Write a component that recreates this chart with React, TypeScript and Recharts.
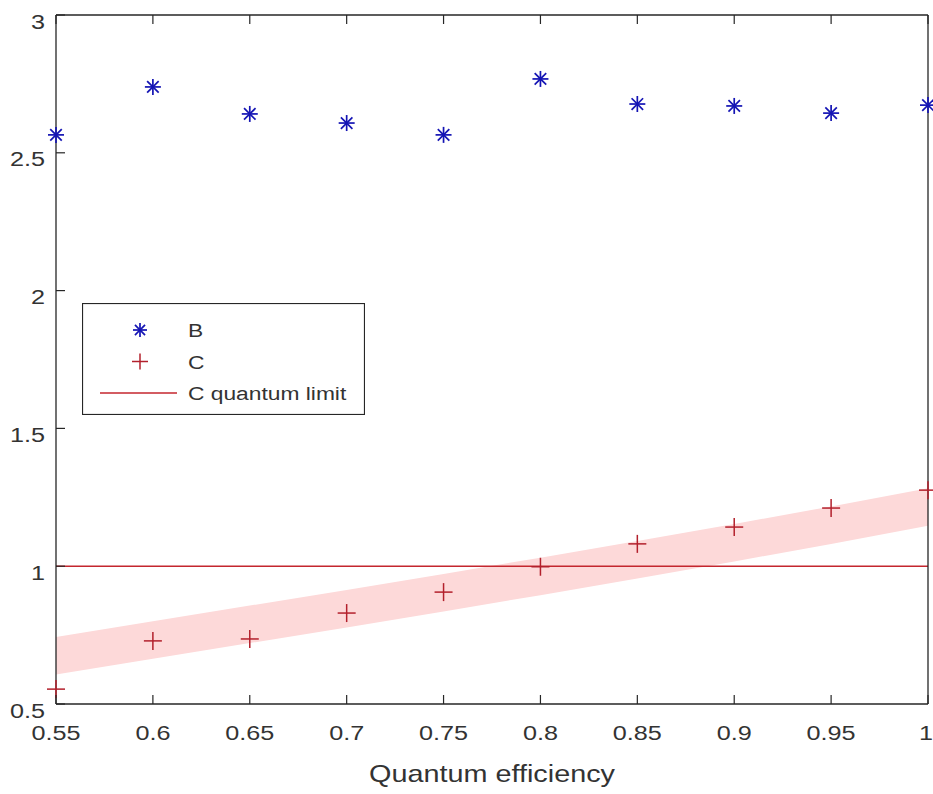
import React from "react";
import {
  Area,
  ComposedChart,
  Legend,
  ReferenceLine,
  Scatter,
  XAxis,
  YAxis,
} from "recharts";

// quantum efficiency values on the x axis
const efficiency = [0.55, 0.6, 0.65, 0.7, 0.75, 0.8, 0.85, 0.9, 0.95, 1];
// measured series
const seriesB = [2.565, 2.739, 2.641, 2.608, 2.565, 2.768, 2.677, 2.67, 2.644, 2.673];
const seriesC = [0.554, 0.729, 0.736, 0.83, 0.906, 0.998, 1.081, 1.142, 1.211, 1.276];
// shaded confidence band around C
const bandLow = [0.607, 0.664, 0.721, 0.778, 0.836, 0.895, 0.955, 1.017, 1.081, 1.147];
const bandHigh = [0.743, 0.8, 0.857, 0.914, 0.972, 1.031, 1.091, 1.153, 1.217, 1.283];
const quantumLimit = 1;

const xTicks = [0.55, 0.6, 0.65, 0.7, 0.75, 0.8, 0.85, 0.9, 0.95, 1];
const yTicks = [0.5, 1, 1.5, 2, 2.5, 3];

const data = efficiency.map((q, i) => ({
  q,
  b: seriesB[i],
  c: seriesC[i],
  band: [bandLow[i], bandHigh[i]],
}));

const FONT = '"Liberation Sans", Arial, sans-serif';
const AXIS = "#262626";
const TEXT = "#333333";
const BLUE = "#1414b4";
const RED = "#b3202c";
const LINE_RED = "#c4262e";
const BAND = "#fdd9d9";

function Star({ cx, cy, r = 8, color = BLUE }: any) {
  const d = r * 0.72;
  return (
    <g stroke={color} strokeWidth={1.7}>
      <line x1={cx - r} y1={cy} x2={cx + r} y2={cy} />
      <line x1={cx} y1={cy - r} x2={cx} y2={cy + r} />
      <line x1={cx - d} y1={cy - d} x2={cx + d} y2={cy + d} />
      <line x1={cx - d} y1={cy + d} x2={cx + d} y2={cy - d} />
    </g>
  );
}

function Plus({ cx, cy, r = 9, color = RED }: any) {
  return (
    <g stroke={color} strokeWidth={1.5}>
      <line x1={cx - r} y1={cy} x2={cx + r} y2={cy} />
      <line x1={cx} y1={cy - r} x2={cx} y2={cy + r} />
    </g>
  );
}

const BottomTick = ({ x, y, payload }: any) => (
  <g>
    <line x1={x} y1={y} x2={x} y2={y - 9} stroke={AXIS} strokeWidth={1.2} />
    <text
      transform={`translate(${Math.min(x, 926)},${y + 36}) scale(1.2,1)`}
      textAnchor="middle"
      fontSize={21}
      fontFamily={FONT}
      fill={TEXT}
    >
      {String(payload.value)}
    </text>
  </g>
);

const TopTick = ({ x, y }: any) => (
  <line x1={x} y1={y} x2={x} y2={y + 9} stroke={AXIS} strokeWidth={1.2} />
);

const LeftTick = ({ x, y, payload }: any) => (
  <g>
    <line x1={x} y1={y} x2={x + 9} y2={y} stroke={AXIS} strokeWidth={1.2} />
    <text
      transform={`translate(${x - 11},${y + 13.5}) scale(1.2,1)`}
      textAnchor="end"
      fontSize={21}
      fontFamily={FONT}
      fill={TEXT}
    >
      {String(payload.value)}
    </text>
  </g>
);

const RightTick = ({ x, y }: any) => (
  <line x1={x} y1={y} x2={x - 9} y2={y} stroke={AXIS} strokeWidth={1.2} />
);

const AxisTitle = ({ viewBox }: any) => {
  const { x, y, width } = viewBox;
  return (
    <text
      transform={`translate(${x + width / 2},${y + 78}) scale(1.2,1)`}
      textAnchor="middle"
      fontSize={24}
      fontFamily={FONT}
      fill={TEXT}
    >
      Quantum efficiency
    </text>
  );
};

const legendItems = [
  { name: "B", kind: "star" },
  { name: "C", kind: "plus" },
  { name: "C quantum limit", kind: "line" },
];

const LegendBox = () => (
  <svg width={283} height={112} style={{ display: "block" }}>
    <rect x={0.5} y={0.5} width={282} height={111} fill="#fff" stroke={AXIS} strokeWidth={1.2} />
    {legendItems.map((item, i) => {
      const cy = 27 + i * 31.5;
      return (
        <g key={item.name}>
          {item.kind === "star" && <Star cx={58} cy={cy} r={7} />}
          {item.kind === "plus" && <Plus cx={58} cy={cy} r={8} />}
          {item.kind === "line" && (
            <line x1={18} y1={cy} x2={95} y2={cy} stroke={LINE_RED} strokeWidth={1.5} />
          )}
          <text
            transform={`translate(106,${cy + 7}) scale(1.2,1)`}
            fontSize={19}
            fontFamily={FONT}
            fill={TEXT}
          >
            {item.name}
          </text>
        </g>
      );
    })}
  </svg>
);

export default function App() {
  return (
    <div style={{ position: "absolute", left: 0, top: 0, background: "#fff" }}>
      <ComposedChart
        width={933}
        height={794}
        data={data}
        margin={{ top: 14, right: 4, left: 0, bottom: 0 }}
      >
        <XAxis
          dataKey="q"
          type="number"
          domain={[0.55, 1]}
          ticks={xTicks}
          interval={0}
          height={90}
          tickSize={0}
          tickMargin={0}
          tickLine={false}
          stroke={AXIS}
          strokeWidth={1.3}
          tick={<BottomTick />}
          label={<AxisTitle />}
        />
        <XAxis
          xAxisId="top"
          orientation="top"
          dataKey="q"
          type="number"
          domain={[0.55, 1]}
          ticks={xTicks}
          interval={0}
          height={1}
          tickSize={0}
          tickMargin={0}
          tickLine={false}
          stroke={AXIS}
          strokeWidth={1.3}
          tick={<TopTick />}
        />
        <YAxis
          type="number"
          domain={[0.5, 3]}
          ticks={yTicks}
          interval={0}
          width={56}
          tickSize={0}
          tickMargin={0}
          tickLine={false}
          stroke={AXIS}
          strokeWidth={1.3}
          tick={<LeftTick />}
        />
        <YAxis
          yAxisId="right"
          orientation="right"
          type="number"
          domain={[0.5, 3]}
          ticks={yTicks}
          interval={0}
          width={1}
          tickSize={0}
          tickMargin={0}
          tickLine={false}
          stroke={AXIS}
          strokeWidth={1.3}
          tick={<RightTick />}
        />
        <Area
          dataKey="band"
          type="linear"
          fill={BAND}
          fillOpacity={1}
          stroke="none"
          isAnimationActive={false}
          legendType="none"
        />
        <ReferenceLine y={quantumLimit} stroke={LINE_RED} strokeWidth={1.5} />
        <Scatter
          name="B"
          dataKey="b"
          shape={(p: any) => <Star cx={p.cx} cy={p.cy} />}
          isAnimationActive={false}
        />
        <Scatter
          name="C"
          dataKey="c"
          shape={(p: any) => <Plus cx={p.cx} cy={p.cy} />}
          isAnimationActive={false}
        />
        <Legend
          layout="vertical"
          align="center"
          verticalAlign="middle"
          content={<LegendBox />}
          wrapperStyle={{ left: 82, top: 303, width: 283, height: 112 }}
        />
      </ComposedChart>
    </div>
  );
}
